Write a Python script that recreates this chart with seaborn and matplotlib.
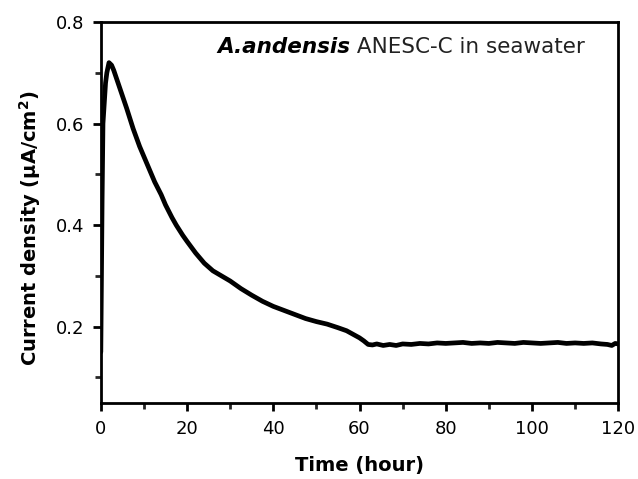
import numpy as np
import pandas as pd
import matplotlib
matplotlib.use("Agg")
import matplotlib.pyplot as plt
import seaborn as sns
from matplotlib.ticker import MultipleLocator

# current density readings (hour, uA/cm2)
time_h = [0.0, 0.15, 0.3, 0.5, 0.8, 1.1, 1.4, 1.9, 2.5, 3.0, 4.0, 5.0, 6.0, 7.5, 9.0, 10.0,
          11.5, 12.5, 14.0, 15.0, 16.5, 17.5, 19.0, 20.0, 22.0, 24.0, 26.0, 28.0, 30.0,
          32.5, 35.0, 37.5, 40.0, 42.5, 45.0, 47.5, 50.0, 52.5, 55.0, 57.0, 58.5, 60.0,
          61.0, 62.0, 63.0, 64.0, 65.5, 67.0, 68.5, 70.0, 72.0, 74.0, 76.0, 78.0, 80.0,
          82.0, 84.0, 86.0, 88.0, 90.0, 92.0, 94.0, 96.0, 98.0, 100.0, 102.0, 104.0,
          106.0, 108.0, 110.0, 112.0, 114.0, 116.0, 117.5, 118.5, 119.3, 120.0]
current = [0.15, 0.30, 0.45, 0.60, 0.64, 0.68, 0.70, 0.72, 0.715, 0.705, 0.68, 0.655, 0.63,
           0.59, 0.555, 0.535, 0.505, 0.485, 0.46, 0.44, 0.415, 0.40, 0.38, 0.368, 0.345,
           0.325, 0.31, 0.30, 0.29, 0.275, 0.262, 0.25, 0.24, 0.232, 0.224, 0.216, 0.21,
           0.205, 0.198, 0.192, 0.185, 0.178, 0.172, 0.165, 0.164, 0.166, 0.163, 0.165,
           0.163, 0.166, 0.165, 0.167, 0.166, 0.168, 0.167, 0.168, 0.169, 0.167, 0.168,
           0.167, 0.169, 0.168, 0.167, 0.169, 0.168, 0.167, 0.168, 0.169, 0.167, 0.168,
           0.167, 0.168, 0.166, 0.165, 0.163, 0.167, 0.166]

df = pd.DataFrame({"time": time_h, "current": current})

sns.set_style("ticks")
plt.rcParams["font.family"] = ["DejaVu Sans"]
plt.rcParams["text.color"] = "black"
plt.rcParams["axes.labelcolor"] = "black"

fig = plt.figure(figsize=(6.38, 4.79), dpi=100)
ax = fig.add_axes([0.158, 0.159, 0.811, 0.795])

sns.lineplot(data=df, x="time", y="current", ax=ax, color="black", linewidth=3.4)

ax.set_xlim(0, 120)
ax.set_ylim(0.05, 0.8)
ax.xaxis.set_major_locator(MultipleLocator(20))
ax.xaxis.set_minor_locator(MultipleLocator(10))
ax.yaxis.set_major_locator(MultipleLocator(0.2))
ax.yaxis.set_minor_locator(MultipleLocator(0.1))
ax.tick_params(which="major", length=6, width=2, labelsize=13, colors="black", pad=6)
ax.tick_params(which="minor", length=4, width=2)
for s in ax.spines.values():
    s.set_linewidth(2)
    s.set_color("black")

ax.set_xlabel("Time (hour)", fontsize=14, fontweight="bold", labelpad=13)
ax.set_ylabel(r"Current density ($\mathbf{\mu}$A/cm$^{\mathbf{2}}$)", fontsize=14,
              fontweight="bold", labelpad=9)
ax.yaxis.set_label_coords(-0.112, 0.46)

t1 = ax.text(0.225, 0.934, "A.andensis", transform=ax.transAxes, fontsize=15.5,
             fontweight="bold", fontstyle="italic", va="center", ha="left")
ax.annotate(" ANESC-C in seawater", xy=(1, 0.5), xycoords=t1, fontsize=15.5,
            va="center", ha="left", color="#222222")

fig.savefig("out.png", dpi=100)
plt.close(fig)
